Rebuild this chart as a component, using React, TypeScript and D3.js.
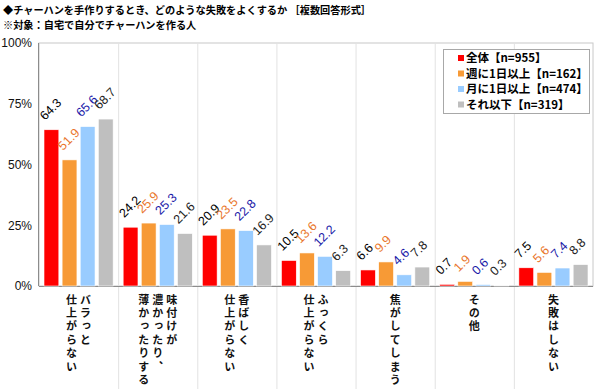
import React from "react";
import * as d3 from "d3";

const categories = [
  ["バラっと", "仕上がらない"],
  ["味付けが", "濃かったり、", "薄かったりする"],
  ["香ばしく", "仕上がらない"],
  ["ふっくら", "仕上がらない"],
  ["焦がしてしまう"],
  ["その他"],
  ["失敗はしない"],
];
const seriesNames = ["全体【n=955】", "週に1日以上【n=162】", "月に1日以上【n=474】", "それ以下【n=319】"];
const seriesColors = ["#FF0000", "#F79A36", "#99CCFF", "#BFBFBF"];
const labelColors = ["#000000", "#E9752A", "#1A1AA8", "#222222"];
const values = [
  [64.3, 24.2, 20.9, 10.5, 6.6, 0.7, 7.5],
  [51.9, 25.9, 23.5, 13.6, 9.9, 1.9, 5.6],
  [65.6, 25.3, 22.8, 12.2, 4.6, 0.6, 7.4],
  [68.7, 21.6, 16.9, 6.3, 7.8, 0.3, 8.8],
];
const yTicks = [0, 25, 50, 75, 100];

const W = 600;
const H = 389;
const plot = { left: 39, right: 593, top: 43, bottom: 286 };
const jp = "'Noto Sans CJK JP', sans-serif";
const num = "'Liberation Sans', Arial, sans-serif";

export default function App() {
  const idx = categories.map((_, i) => String(i));
  const x = d3.scaleBand().domain(idx).range([plot.left, plot.right]);
  const xs = d3
    .scaleBand()
    .domain(seriesNames)
    .range([5, x.bandwidth() - 5])
    .paddingInner(0.18);
  const y = d3.scaleLinear().domain([0, 100]).range([plot.bottom, plot.top]);

  return (
    <svg width={W} height={H} style={{ position: "absolute", left: 0, top: 0 }}>
      <rect width={W} height={H} fill="#fff" />
      {/* title */}
      <text x={3} y={14} fontFamily={jp} fontWeight="bold" fontSize={10.2} fill="#000">
        ◆チャーハンを手作りするとき、どのような失敗をよくするか ［複数回答形式］
      </text>
      <text x={3} y={29} fontFamily={jp} fontWeight="bold" fontSize={10.2} fill="#000">
        ※対象：自宅で自分でチャーハンを作る人
      </text>

      {/* plot frame + vertical grid */}
      <rect
        x={plot.left}
        y={plot.top}
        width={plot.right - plot.left}
        height={plot.bottom - plot.top}
        fill="none"
        stroke="#C8C8C8"
      />
      {idx.slice(1).map((c) => (
        <line
          key={c}
          x1={x(c)! + 0.5}
          x2={x(c)! + 0.5}
          y1={plot.top}
          y2={H}
          stroke="#E2E2E2"
        />
      ))}
      <line x1={plot.left - 0.5} x2={plot.left - 0.5} y1={plot.top} y2={plot.bottom} stroke="#8C8C8C" />
      <line x1={plot.left} x2={plot.right} y1={plot.bottom + 0.5} y2={plot.bottom + 0.5} stroke="#8C8C8C" />

      {/* y axis labels */}
      {yTicks.map((t) => (
        <text
          key={t}
          x={32}
          y={y(t)}
          dy="0.36em"
          textAnchor="end"
          fontFamily={num}
          fontSize={12}
          fill="#111"
        >
          {t}%
        </text>
      ))}

      {/* bars */}
      {values.map((row, s) =>
        row.map((v, i) => {
          const bx = x(String(i))! + xs(seriesNames[s])!;
          return (
            <rect
              key={`${s}-${i}`}
              x={bx}
              y={y(v)}
              width={xs.bandwidth()}
              height={plot.bottom - y(v)}
              fill={seriesColors[s]}
              stroke="#fff"
              strokeWidth={0.6}
            />
          );
        })
      )}

      {/* value labels */}
      {values.map((row, s) =>
        row.map((v, i) => {
          const lx = x(String(i))! + xs(seriesNames[s])! + 1;
          const ly = y(v) - 9;
          return (
            <text
              key={`l${s}-${i}`}
              transform={`translate(${lx},${ly}) rotate(-45)`}
              fontFamily={num}
              fontSize={12.5}
              fill={labelColors[s]}
            >
              {v.toFixed(1)}
            </text>
          );
        })
      )}

      {/* category labels (vertical, first line on the right) */}
      {categories.map((lines, i) => {
        const cx = x(String(i))! + x.bandwidth() / 2;
        const colW = 14;
        return lines.map((ln, j) => {
          const colX = cx + ((lines.length - 1) / 2 - j) * colW;
          return (
            <text
              key={`c${i}-${j}`}
              x={colX}
              y={294}
              fontFamily={jp}
              fontWeight="bold"
              fontSize={11}
              fill="#111"
              style={{ writingMode: "vertical-rl", letterSpacing: "2.4px" }}
            >
              {ln}
            </text>
          );
        });
      })}

      {/* legend */}
      <rect x={443.5} y={49.5} width={146} height={64} fill="#fff" stroke="#A8A8A8" />
      {seriesNames.map((n, s) => (
        <g key={n} transform={`translate(458, ${58 + s * 15.5})`}>
          <rect x={0} y={-3} width={6} height={6} fill={seriesColors[s]} />
          <text x={8} y={0} dy="0.36em" fontFamily={jp} fontWeight="bold" fontSize={11.5} fill="#000">
            {n}
          </text>
        </g>
      ))}
    </svg>
  );
}
